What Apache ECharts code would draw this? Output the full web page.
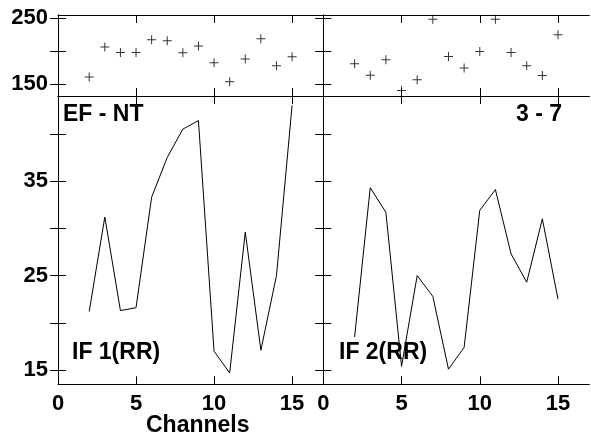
<!DOCTYPE html>
<html>
<head>
<meta charset="utf-8">
<script src="https://cdn.jsdelivr.net/npm/echarts@6/dist/echarts.min.js"></script>
<style>
  html, body { margin: 0; padding: 0; background: #fff; }
  #chart { width: 591px; height: 439px; }
</style>
</head>
<body>
<div id="chart"></div>
<script>
// channels 2..15
var channels = [2, 3, 4, 5, 6, 7, 8, 9, 10, 11, 12, 13, 14, 15]
// top panels (scatter, +)
var efLeft = [161, 206.5, 198, 198, 217.5, 216, 197.5, 208, 182.5, 153.5, 188, 219, 178, 191.5]
var efRight = [181, 163.5, 187, 140.5, 156.5, 248.5, 192, 174.5, 199.5, 248.5, 198, 178, 163, 225]
// bottom panels (line)
var ifLeft = [21.2, 31.2, 21.3, 21.6, 33.3, 37.5, 40.5, 41.4, 17.0, 14.7, 29.6, 17.1, 25.0, 43.0]
var ifRight = [18.5, 34.3, 31.7, 15.4, 25.0, 22.8, 15.1, 17.4, 31.9, 34.1, 27.3, 24.3, 31.0, 22.5]

var xTicks = [0, 5, 10, 15]
var topTicks = [150, 200, 250]
var topLabels = [150, 250]
var botTicks = [15, 20, 25, 30, 35, 40]
var botLabels = [15, 25, 35]

var FONT = 'Liberation Sans'
var plus = 'path://M4,0h1v9h-1z M0,4h9v1h-9z'

function pairs(ys) {
  return ys.map(function(y, i) { return [channels[i], y] })
}

var grids = [
  { left: 58, top: 15, width: 265.3, height: 81 },
  { left: 323.3, top: 15, width: 266, height: 81 },
  { left: 58, top: 96, width: 265.3, height: 288.3 },
  { left: 323.3, top: 96, width: 266, height: 288.3 }
]

var xAxis = []
var yAxis = []
grids.forEach(function(g, i) {
  var isTop = i < 2
  ;['bottom', 'top'].forEach(function(pos) {
    xAxis.push({
      type: 'value', gridIndex: i, position: pos, min: 0, max: 17,
      axisLine: { show: true, lineStyle: { color: '#000', width: 1 } },
      axisTick: { show: true, inside: true, length: 8, customValues: xTicks, lineStyle: { color: '#000' } },
      axisLabel: {
        show: !isTop && pos === 'bottom', customValues: xTicks, margin: 9,
        color: '#000', fontFamily: FONT, fontWeight: 'bold', fontSize: 22
      },
      splitLine: { show: false }
    })
  })
  ;['left', 'right'].forEach(function(pos) {
    yAxis.push({
      type: 'value', gridIndex: i, position: pos,
      min: isTop ? 132 : 13.5, max: isTop ? 255 : 44,
      axisLine: { show: true, lineStyle: { color: '#000', width: 1 } },
      axisTick: { show: true, inside: true, length: 8, customValues: isTop ? topTicks : botTicks, lineStyle: { color: '#000' } },
      axisLabel: {
        show: pos === 'left' && (i === 0 || i === 2), customValues: isTop ? topLabels : botLabels, margin: 10,
        color: '#000', fontFamily: FONT, fontWeight: 'bold', fontSize: 22
      },
      splitLine: { show: false }
    })
  })
})

function txt(left, top, text) {
  return {
    type: 'text', left: left, top: top,
    style: { text: text, fill: '#000', font: 'bold 23px "' + FONT + '"' }
  }
}

var chart = echarts.init(document.getElementById('chart'))
chart.setOption({
  animation: false,
  backgroundColor: '#fff',
  grid: grids,
  xAxis: xAxis,
  yAxis: yAxis,
  series: [
    { type: 'scatter', xAxisIndex: 0, yAxisIndex: 0, symbol: plus, symbolSize: 9, itemStyle: { color: '#000' }, data: pairs(efLeft) },
    { type: 'scatter', xAxisIndex: 2, yAxisIndex: 2, symbol: plus, symbolSize: 9, itemStyle: { color: '#000' }, data: pairs(efRight) },
    { type: 'line', xAxisIndex: 4, yAxisIndex: 4, symbol: 'none', lineStyle: { color: '#000', width: 1 }, data: pairs(ifLeft) },
    { type: 'line', xAxisIndex: 6, yAxisIndex: 6, symbol: 'none', lineStyle: { color: '#000', width: 1 }, data: pairs(ifRight) }
  ],
  graphic: [
    txt(63, 103, 'EF - NT'),
    { type: 'text', right: 591 - 562, top: 103, style: { text: '3 - 7', fill: '#000', font: 'bold 23px "' + FONT + '"' } },
    txt(72, 341, 'IF 1(RR)'),
    txt(339, 341, 'IF 2(RR)'),
    txt(146, 414, 'Channels')
  ]
})
</script>
</body>
</html>
